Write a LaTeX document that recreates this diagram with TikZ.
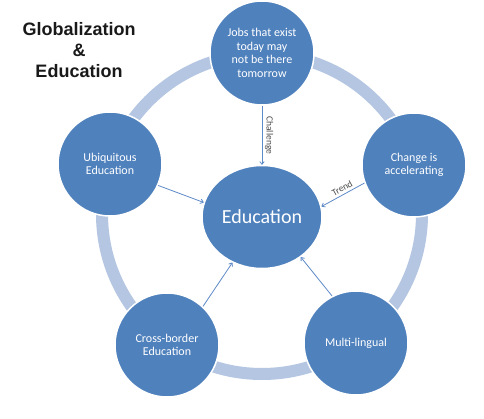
\documentclass[tikz,border=0pt]{standalone}
\usepackage{fontspec}
\setmainfont{Carlito}
\newfontfamily\titlefont{Liberation Sans}
\usetikzlibrary{shapes.geometric,arrows.meta}
\definecolor{cfill}{HTML}{4F81BD}
\definecolor{ringc}{HTML}{B4C6E2}
\definecolor{arr}{HTML}{5E8AC7}
\begin{document}
\begin{tikzpicture}[x=1pt,y=-1pt,
 bub/.style={circle,fill=cfill,draw=white,line width=1.5pt,minimum size=104pt,inner sep=0pt,align=center,text=white,font=\fontsize{12}{13.5}\selectfont},
 hub/.style={ellipse,fill=cfill,draw=white,line width=1.5pt,minimum width=120pt,minimum height=103pt,inner sep=0pt,text=white,font=\fontsize{20}{24}\selectfont},
 link/.style={draw=arr,line width=0.8pt,-{To[length=3.5pt,width=5pt]}},
 lab/.style={font=\fontsize{9.5}{11}\selectfont,text=black!70,inner sep=2.5pt},
 ttl/.style={font=\titlefont\bfseries\fontsize{18}{21}\selectfont,align=center,text=black!90,inner sep=0pt}]
\useasboundingbox (0,0) rectangle (484,419);
\fill[white] (0,0) rectangle (484,419);
\draw[ringc,line width=12pt] (262,214) circle[radius=160pt];
\node[ttl] (title) at (79,50) {Globalization\\\&\\Education};
\node[bub] (top) at (262,53) {Jobs that exist\\today may\\not be there\\tomorrow};
\node[bub] (right) at (414,165) {Change is\\accelerating};
\node[bub] (left) at (110,164) {Ubiquitous\\Education};
\node[bub] (ll) at (167,345) {Cross-border\\Education};
\node[bub] (lr) at (356,343) {Multi-lingual};
\node[hub] (edu) at (262,217) {Education};
\draw[link] (top.south) -- node[lab,midway,rotate=-90,anchor=south] {Challenge} (edu.north);
\draw[link] (right.200) -- node[lab,pos=0.45,sloped,anchor=south] {Trend} (edu.10);
\draw[link] (left.-24) -- (edu.166);
\draw[link] (ll.47) -- (edu.237);
\draw[link] (lr.117) -- (edu.-46);
\end{tikzpicture}
\end{document}
